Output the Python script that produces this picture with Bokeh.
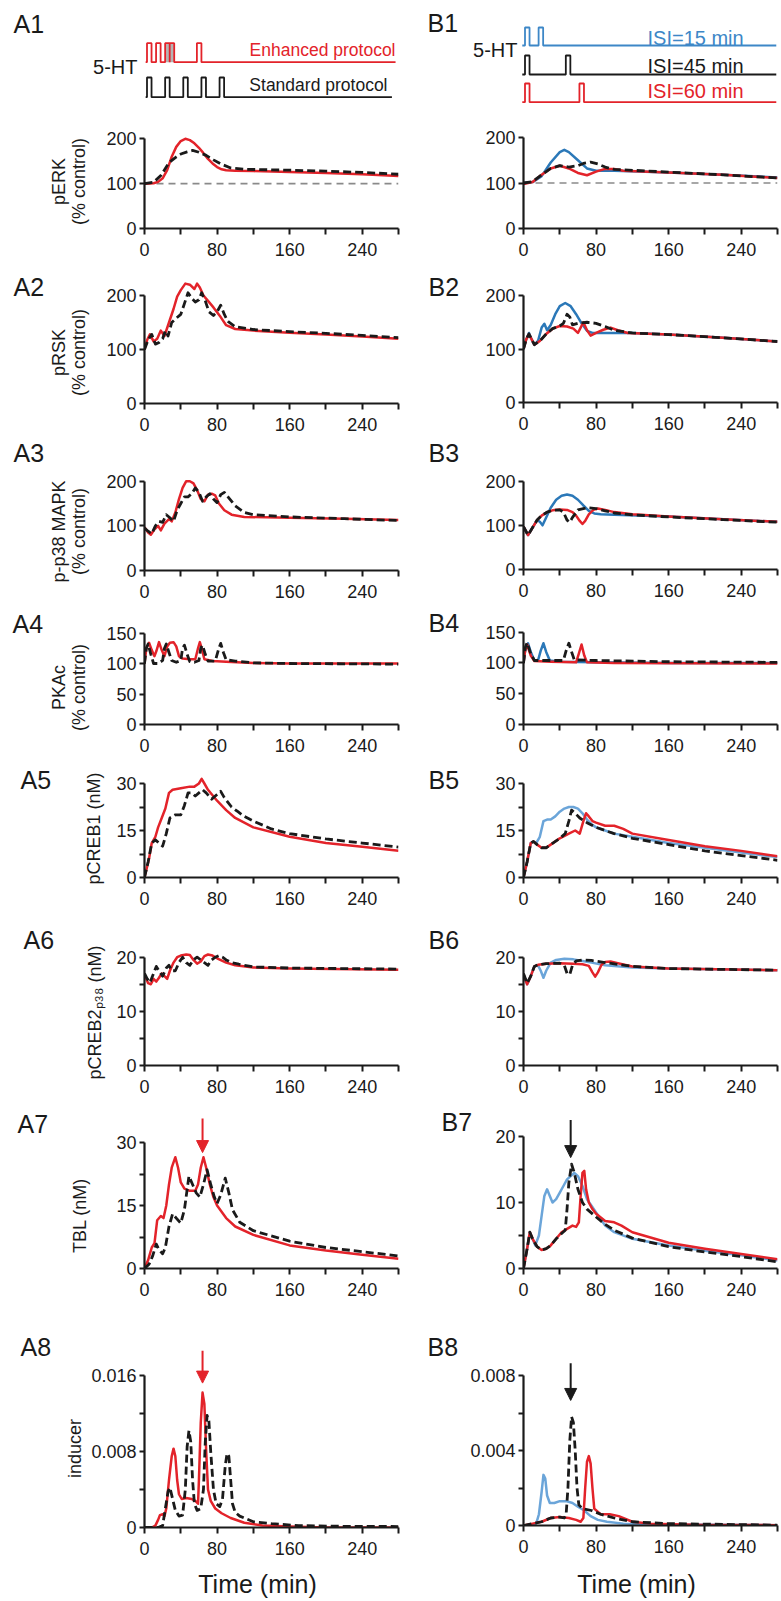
import math
from bokeh.plotting import figure
from bokeh.layouts import column, row
from bokeh.models import Range1d, FixedTicker, NumeralTickFormatter, Label, Arrow, NormalHead
from bokeh.embed import file_html
from bokeh.resources import INLINE

FONT = "Liberation Sans"
INK = "#1a1a1a"
RED = "#e3232a"
BLUE = "#2b78b8"
LBLUE = "#6ba5d9"
PBLUE = "#3d87c7"
GREY = "#8a8a8a"

# ---------------- data ----------------
X_TICKS = [0, 80, 160, 240]
X_MINOR = [40, 120, 200, 280]

ENHANCED = [0, 10, 20, 25, 55]
STANDARD = [0, 20, 40, 60, 80]
ISI15 = [0, 15]
ISI45 = [0, 45]
ISI60 = [0, 60]
PULSE_MIN = 5
CONTROL_LEVEL = 100

# A1 / B1 pERK
a1_red_t = [0, 10, 15, 20, 25, 30, 35, 40, 45, 50, 55, 60, 65, 70, 75, 80, 85, 90, 100, 120, 160, 200, 240, 280]
a1_red = [100, 101, 104, 112, 130, 160, 182, 195, 200, 197, 190, 180, 168, 155, 145, 137, 132, 130, 129, 128, 126, 124, 121, 117]
a1_std_t = [0, 10, 18, 27, 34, 40, 47, 53, 60, 68, 76, 84, 95, 110, 160, 200, 240, 280]
a1_std = [100, 103, 118, 147, 158, 166, 171, 174, 170, 163, 153, 144, 135, 132, 130, 128, 125, 121]
b1_i15_t = [0, 10, 20, 30, 40, 45, 50, 60, 70, 80, 100, 160, 220, 280]
b1_i15 = [100, 102, 115, 145, 168, 173, 168, 150, 132, 127, 127, 123, 118, 112]
b1_i60_t = [0, 10, 20, 30, 40, 50, 60, 70, 80, 90, 100, 110, 160, 220, 280]
b1_i60 = [98, 102, 118, 132, 138, 132, 122, 117, 125, 131, 131, 127, 123, 118, 111]
b1_i45_t = [0, 10, 20, 30, 40, 50, 60, 66, 74, 82, 90, 100, 160, 220, 280]
b1_i45 = [100, 103, 118, 132, 138, 135, 138, 143, 146, 142, 135, 130, 124, 118, 111]

# A2 / B2 pRSK
a2_red_t = [0, 3, 6, 10, 14, 18, 22, 27, 32, 36, 40, 45, 50, 55, 58, 61, 65, 70, 76, 84, 90, 100, 120, 160, 200, 240, 280]
a2_red = [100, 118, 128, 115, 120, 135, 125, 150, 175, 198, 210, 222, 220, 212, 222, 215, 200, 190, 178, 160, 145, 138, 135, 131, 128, 124, 120]
a2_std_t = [0, 4, 8, 12, 16, 20, 23, 26, 30, 35, 40, 44, 48, 52, 56, 60, 63, 67, 71, 76, 80, 84, 88, 92, 100, 120, 160, 200, 240, 280]
a2_std = [100, 118, 128, 110, 113, 120, 135, 125, 150, 158, 165, 185, 205, 195, 188, 192, 205, 190, 170, 163, 170, 182, 165, 152, 142, 137, 133, 130, 126, 122]
b2_i15_t = [0, 3, 6, 9, 12, 16, 20, 23, 26, 30, 35, 40, 46, 52, 58, 64, 70, 76, 90, 120, 160, 220, 280]
b2_i15 = [100, 118, 130, 118, 108, 115, 140, 147, 135, 145, 165, 180, 186, 180, 165, 148, 134, 130, 130, 130, 127, 121, 114]
b2_i60_t = [0, 3, 6, 9, 12, 18, 25, 32, 40, 48, 55, 60, 63, 66, 70, 74, 80, 88, 96, 104, 115, 160, 220, 280]
b2_i60 = [100, 118, 128, 118, 108, 115, 128, 138, 143, 142, 138, 130, 140, 150, 135, 125, 130, 136, 140, 135, 130, 127, 121, 114]
b2_i45_t = [0, 3, 6, 9, 12, 18, 25, 32, 40, 44, 48, 51, 54, 60, 70, 80, 90, 100, 120, 160, 220, 280]
b2_i45 = [100, 118, 128, 118, 108, 115, 128, 138, 143, 148, 165, 160, 145, 148, 150, 148, 142, 135, 130, 127, 121, 114]

# A3 / B3 p-p38 MAPK
a3_red_t = [0, 4, 7, 11, 15, 18, 22, 27, 30, 34, 38, 42, 46, 50, 54, 58, 62, 66, 70, 74, 78, 82, 88, 96, 110, 160, 220, 280]
a3_red = [97, 85, 80, 92, 100, 90, 105, 115, 110, 130, 160, 185, 200, 200, 195, 180, 160, 155, 170, 172, 168, 150, 135, 125, 120, 118, 116, 113]
a3_std_t = [0, 4, 8, 12, 16, 20, 24, 28, 32, 36, 40, 44, 48, 52, 56, 60, 64, 68, 72, 76, 80, 84, 88, 92, 100, 110, 120, 160, 220, 280]
a3_std = [95, 88, 82, 100, 110, 108, 125, 118, 110, 135, 150, 165, 165, 172, 185, 175, 155, 165, 172, 160, 152, 170, 175, 165, 145, 130, 125, 120, 116, 112]
b3_i15_t = [0, 5, 10, 15, 18, 21, 25, 30, 36, 42, 48, 54, 60, 66, 72, 78, 85, 100, 160, 220, 280]
b3_i15 = [97, 78, 95, 112, 108, 100, 118, 140, 158, 167, 170, 167, 158, 145, 133, 127, 125, 124, 120, 114, 108]
b3_i60_t = [0, 5, 10, 15, 20, 26, 32, 40, 48, 54, 58, 62, 65, 68, 72, 77, 82, 90, 100, 120, 160, 220, 280]
b3_i60 = [97, 78, 95, 112, 122, 130, 134, 136, 135, 130, 122, 110, 103, 110, 125, 135, 138, 135, 130, 125, 120, 114, 108]
b3_i45_t = [0, 5, 10, 15, 20, 26, 32, 40, 44, 48, 51, 54, 60, 70, 80, 90, 100, 120, 160, 220, 280]
b3_i45 = [97, 78, 95, 112, 122, 130, 134, 135, 130, 112, 107, 118, 135, 140, 138, 133, 128, 124, 119, 113, 107]

# A4 / B4 PKAc
a4_red_t = [0, 2, 5, 8, 11, 13, 16, 19, 22, 25, 28, 32, 35, 38, 42, 50, 56, 59, 61, 63, 66, 75, 90, 120, 160, 280]
a4_red = [100, 125, 134, 122, 112, 120, 135, 122, 112, 128, 134, 135, 128, 112, 108, 107, 107, 125, 135, 125, 107, 104, 103, 101, 100, 100]
a4_std_t = [0, 2, 4, 7, 10, 15, 20, 22, 24, 27, 30, 35, 40, 42, 44, 47, 50, 55, 60, 62, 64, 67, 70, 78, 82, 84, 87, 90, 100, 120, 160, 280]
a4_std = [100, 125, 132, 115, 100, 100, 105, 125, 132, 118, 105, 102, 105, 125, 130, 115, 103, 102, 105, 125, 130, 115, 104, 104, 125, 133, 118, 106, 104, 101, 100, 99]
b4_i15_t = [0, 2, 5, 8, 12, 16, 19, 22, 25, 29, 40, 80, 160, 280]
b4_i15 = [100, 122, 132, 118, 104, 104, 120, 132, 118, 104, 102, 101, 100, 100]
b4_i60_t = [0, 2, 4, 8, 12, 30, 58, 61, 64, 67, 70, 100, 280]
b4_i60 = [100, 122, 130, 112, 103, 102, 101, 115, 130, 112, 101, 100, 99]
b4_i45_t = [0, 2, 4, 8, 12, 30, 44, 47, 50, 53, 56, 80, 160, 280]
b4_i45 = [100, 125, 133, 115, 104, 104, 104, 120, 132, 118, 105, 104, 102, 101]

# A5 / B5 pCREB1
a5_red_t = [0, 5, 8, 12, 15, 19, 23, 27, 31, 40, 50, 55, 60, 63, 66, 70, 80, 90, 100, 120, 160, 200, 240, 280]
a5_red = [0, 6, 11, 13, 16, 19, 22, 27, 28, 28.5, 29, 29, 30, 31.5, 30, 28, 24.5, 21.5, 19, 16, 13, 11, 9.8, 8.5]
a5_std_t = [0, 4, 8, 12, 16, 20, 24, 28, 34, 40, 44, 48, 52, 56, 60, 64, 68, 74, 80, 84, 88, 92, 96, 103, 110, 120, 140, 160, 200, 240, 280]
a5_std = [0, 5, 11, 12, 11, 10, 14, 19, 20, 20, 23, 27, 27, 26, 27, 28, 27, 25, 26.5, 27.5, 25.5, 24, 22.5, 21, 19.5, 18, 15.5, 14, 12.3, 11, 9.7]
b5_i15_t = [0, 4, 8, 11, 14, 18, 22, 26, 30, 35, 40, 45, 50, 55, 60, 65, 70, 75, 80, 90, 100, 120, 160, 200, 240, 280]
b5_i15 = [0, 5, 11, 11.5, 11, 13, 18, 18.5, 18.5, 19.5, 21, 22, 22.5, 22.5, 22, 20.5, 18.5, 17, 16, 15, 14, 13, 11, 9.5, 8, 6.5]
b5_i60_t = [0, 4, 8, 11, 15, 20, 25, 30, 40, 50, 57, 62, 66, 69, 72, 76, 80, 90, 100, 110, 120, 160, 200, 240, 280]
b5_i60 = [0, 5, 11, 11.5, 10.5, 9.5, 9.5, 10.5, 12.5, 14, 15, 14, 18, 20.5, 19.5, 18, 17.5, 16.5, 16.5, 15.5, 14, 12, 10, 8.5, 6.8]
b5_i45_t = [0, 4, 8, 11, 15, 20, 25, 30, 40, 46, 50, 53, 57, 62, 70, 80, 100, 120, 160, 200, 240, 280]
b5_i45 = [0, 5, 11, 11.5, 10.5, 9.5, 9.5, 10.5, 12.5, 14, 18, 21.5, 20.5, 19, 17.5, 16, 14, 12.5, 10.5, 8.5, 7, 5.5]

# A6 / B6 pCREB2 p38
a6_red_t = [0, 4, 7, 10, 13, 16, 19, 22, 25, 28, 32, 36, 40, 46, 50, 54, 58, 62, 66, 70, 75, 80, 90, 100, 120, 160, 280]
a6_red = [16.8, 15.2, 15, 16, 15.5, 16.2, 17, 16.5, 16, 17.5, 19, 20, 20.3, 20.5, 20.4, 19.5, 18.8, 19.2, 20.2, 20.5, 20.3, 19.8, 19, 18.5, 18.1, 17.9, 17.7]
a6_std_t = [0, 3, 6, 10, 13, 16, 20, 24, 27, 30, 34, 38, 42, 46, 50, 54, 58, 62, 66, 70, 74, 78, 82, 86, 90, 96, 104, 120, 160, 280]
a6_std = [17, 16, 15.3, 17, 18.3, 17.5, 16.5, 18, 18.5, 17.5, 17.5, 19, 20, 19, 18.5, 19.5, 20, 19.5, 19, 18.5, 19.5, 20, 20.3, 20, 19.5, 19, 18.7, 18.2, 18, 17.8]
b6_i15_t = [0, 4, 8, 12, 16, 19, 22, 25, 30, 36, 45, 55, 65, 75, 90, 120, 160, 280]
b6_i15 = [16.8, 15, 16.5, 18.3, 18.5, 17.5, 16.2, 17.5, 19, 19.5, 19.7, 19.6, 19.3, 19, 18.5, 18.1, 17.9, 17.6]
b6_i60_t = [0, 4, 8, 12, 16, 25, 40, 55, 65, 72, 76, 79, 82, 86, 90, 96, 104, 120, 160, 280]
b6_i60 = [16.8, 15, 16.5, 18.3, 18.6, 18.8, 18.9, 18.8, 18.7, 18.4, 17.2, 16.4, 17.2, 18.6, 19.1, 19.2, 18.9, 18.3, 17.9, 17.6]
b6_i45_t = [0, 4, 8, 12, 16, 25, 40, 45, 48, 51, 54, 58, 65, 75, 90, 120, 160, 280]
b6_i45 = [17, 15.2, 16.5, 18.3, 18.6, 18.8, 18.9, 18.5, 17, 16.8, 18.5, 19.3, 19.5, 19.4, 19, 18.3, 17.9, 17.6]

# A7 / B7 TBL
a7_red_t = [0, 4, 8, 11, 14, 18, 21, 24, 27, 30, 34, 37, 40, 44, 50, 56, 59, 62, 65, 68, 72, 76, 80, 90, 100, 120, 160, 200, 240, 280]
a7_red = [0, 2, 5, 6, 11.5, 12.5, 12, 15, 20, 24, 26.5, 24, 20.5, 19, 18.5, 18.5, 20, 24, 26.5, 24, 20, 17, 15, 12, 10, 8, 5.5, 4.3, 3.3, 2.3]
a7_std_t = [0, 5, 9, 13, 16, 20, 23, 27, 31, 35, 40, 44, 49, 53, 57, 61, 65, 69, 73, 77, 80, 84, 89, 93, 97, 105, 120, 160, 200, 240, 280]
a7_std = [0, 1, 3, 5.8, 4.5, 3.5, 5, 10, 13, 12, 10.8, 14, 22, 20, 18, 17, 20, 23.5, 20, 17, 15.5, 17.5, 21.5, 18, 14, 11, 9, 6.5, 5, 4, 3]
b7_i15_t = [0, 4, 7, 10, 13, 17, 20, 23, 26, 29, 32, 36, 40, 44, 48, 52, 56, 60, 65, 70, 75, 80, 90, 100, 120, 160, 200, 240, 280]
b7_i15 = [0, 3, 5.5, 4.5, 3.5, 5, 8, 11, 12, 11, 10, 10.5, 11.5, 12.5, 13.5, 14, 14.5, 14, 12.5, 10.5, 9.5, 8.5, 6.5, 5.5, 4.5, 3.5, 2.7, 2, 1.2]
b7_i60_t = [0, 4, 7, 10, 15, 20, 25, 30, 36, 42, 48, 54, 58, 61, 63, 65, 67, 69, 72, 76, 80, 90, 100, 108, 120, 160, 200, 240, 280]
b7_i60 = [0, 3, 5.5, 4.5, 3.3, 2.8, 3, 3.5, 4.5, 5.5, 6, 6.5, 6.3, 7, 11, 14.5, 14.8, 12, 10, 9, 8.3, 7.2, 7, 6.5, 5.5, 3.9, 3, 2.2, 1.4]
b7_i45_t = [0, 4, 7, 10, 15, 20, 25, 30, 36, 42, 46, 48, 50, 53, 56, 60, 65, 70, 80, 90, 100, 120, 160, 200, 240, 280]
b7_i45 = [0, 3, 5.5, 4.5, 3.3, 2.8, 3, 3.5, 4.5, 5.3, 5.8, 9, 13, 15.8, 14.5, 12, 10, 9, 7.8, 6.7, 5.8, 4.6, 3.3, 2.5, 1.8, 1.0]

# A8 / B8 inducer
a8_red_t = [0, 8, 12, 15, 17, 20, 22, 24, 27, 30, 32, 34, 36, 38, 41, 46, 52, 56, 59, 60, 62, 64, 66, 68, 70, 73, 78, 85, 95, 110, 130, 160, 200, 280]
a8_red = [0, 0, 0.0002, 0.0008, 0.0013, 0.0014, 0.0012, 0.002, 0.005, 0.0075, 0.0083, 0.0075, 0.005, 0.0035, 0.003, 0.0031, 0.003, 0.0028, 0.0025, 0.005, 0.011, 0.0142, 0.013, 0.008, 0.004, 0.0028, 0.002, 0.0015, 0.001, 0.0005, 0.0002, 0.0001, 0, 0]
a8_std_t = [0, 15, 20, 23, 26, 28, 31, 34, 38, 42, 45, 47, 49, 51, 53, 55, 58, 62, 65, 67, 69, 71, 73, 76, 79, 83, 86, 89, 91, 93, 95, 97, 100, 105, 120, 140, 170, 220, 280]
a8_std = [0, 0, 0.0002, 0.002, 0.0038, 0.0042, 0.003, 0.0018, 0.0012, 0.0013, 0.004, 0.0085, 0.0102, 0.009, 0.005, 0.0025, 0.0018, 0.002, 0.004, 0.009, 0.0118, 0.0112, 0.008, 0.004, 0.0025, 0.0022, 0.003, 0.0065, 0.0078, 0.0075, 0.005, 0.0025, 0.0016, 0.0012, 0.0006, 0.0004, 0.0002, 0.00012, 0.0001]
b8_i15_t = [0, 10, 14, 17, 20, 22, 24, 26, 29, 34, 40, 47, 54, 60, 67, 74, 82, 92, 110, 160, 280]
b8_i15 = [0, 0.00005, 0.0001, 0.0006, 0.0018, 0.0027, 0.0025, 0.0016, 0.0012, 0.0012, 0.0013, 0.0013, 0.0012, 0.001, 0.0008, 0.0005, 0.0003, 0.0002, 0.0001, 0.00005, 0.00002]
b8_i60_t = [0, 10, 20, 30, 40, 50, 58, 63, 66, 68, 70, 72, 74, 76, 78, 85, 95, 105, 120, 140, 200, 280]
b8_i60 = [0, 0.0001, 0.0002, 0.0004, 0.00045, 0.0004, 0.0003, 0.0002, 0.0004, 0.002, 0.0034, 0.0037, 0.0033, 0.002, 0.0009, 0.0006, 0.0006, 0.0005, 0.0002, 0.0001, 0.00003, 0.00002]
b8_i45_t = [0, 10, 20, 30, 40, 45, 47, 49, 51, 53, 55, 57, 59, 61, 65, 75, 85, 100, 120, 160, 280]
b8_i45 = [0, 0.0001, 0.0002, 0.0004, 0.00045, 0.0004, 0.0006, 0.002, 0.0045, 0.0058, 0.0055, 0.004, 0.002, 0.0011, 0.0009, 0.0008, 0.0006, 0.0004, 0.0002, 0.0001, 0.00002]

# arrows marking the peak (time, from, to)
A7_ARROW = (64, 35.7, 27.6)
A8_ARROW = (64, 0.0186, 0.0152)
B7_ARROW = (52, 22.5, 16.8)
B8_ARROW = (52, 0.00866, 0.00667)

# ---------------- layout geometry (page pixels) ----------------
PX = 254 / 280.0
FRAME_W = 254
COLS = {"A": dict(left=0, right=420, f0=144), "B": dict(left=420, right=781, f0=523)}
TICK_FS = "18px"


def new_fig(**kw):
    p = figure(toolbar_location=None, output_backend="svg", title=None, **kw)
    try:
        p.frame_align = False
    except Exception:
        pass
    p.outline_line_color = None
    return p


def style_axes(p, ymax, yticks, yminor):
    xa = p.xaxis[0]
    xa.ticker = FixedTicker(ticks=X_TICKS, minor_ticks=X_MINOR)
    xa.bounds = (0, 280)
    ya = p.yaxis[0]
    ya.ticker = FixedTicker(ticks=yticks, minor_ticks=yminor)
    ya.bounds = (0, ymax)
    ya.formatter = NumeralTickFormatter(format="0.[000]")
    for ax in (xa, ya):
        ax.axis_line_width = 2.2
        ax.axis_line_color = INK
        ax.major_tick_line_width = 2
        ax.minor_tick_line_width = 2
        ax.major_tick_line_color = INK
        ax.minor_tick_line_color = INK
        ax.major_tick_in = 0
        ax.minor_tick_in = 0
        ax.major_label_text_font = FONT
        ax.major_label_text_font_size = TICK_FS
        ax.major_label_text_color = INK
    xa.major_tick_out = 6
    xa.minor_tick_out = 6
    xa.major_label_standoff = 8
    ya.major_tick_out = 5
    ya.minor_tick_out = 5
    ya.major_label_standoff = 3


def text_fig(x0, x1, rows):
    rtop, rbot = rows
    p = new_fig(width=x1 - x0, height=rbot - rtop, x_range=Range1d(x0, x1),
                y_range=Range1d(rbot, rtop), x_axis_type=None, y_axis_type=None,
                min_border=0)
    p.grid.visible = False
    return p


def add_text(p, x, y, txt, size, color=INK, align="left", angle=0.0):
    p.add_layout(Label(x=x, y=y, text=txt, text_font=FONT, text_font_size=size,
                       text_color=color, text_align=align, text_baseline="middle",
                       angle=angle))


def panel(col, rows, gut, y0, ytl, ymax, yticks, yminor, lines, tag=None, tag_xy=None,
          titles=(), arrow=None, baseline=False):
    rtop, rbot = rows
    c = COLS[col]
    # gutter left of the plot: panel letter and rotated y-axis title
    g = text_fig(c["left"], gut, rows)
    if tag:
        add_text(g, tag_xy[0], tag_xy[1], tag, "25px")
    for (txt, xc, yc) in titles:
        add_text(g, xc, yc, txt, "18px", align="center", angle=math.pi / 2)

    W = c["right"] - gut
    H = rbot - rtop
    py = (y0 - ytl) / ymax
    bt = 2
    yend = (y0 - rtop - bt) / py
    p = new_fig(width=W, height=H, x_range=Range1d(0, 280), y_range=Range1d(0, yend),
                min_border_left=c["f0"] - gut,
                min_border_right=c["right"] - c["f0"] - FRAME_W,
                min_border_top=bt, min_border_bottom=rbot - y0)
    p.xgrid.visible = False
    p.ygrid.visible = False
    style_axes(p, ymax, yticks, yminor)

    if baseline:
        p.line([0, 280], [CONTROL_LEVEL, CONTROL_LEVEL], line_color=GREY, line_width=1.6, line_dash="7 5")
    for (t, v, color, dash) in lines:
        p.line(t, v, line_color=color, line_width=2.8 if dash else 2.5,
               line_dash=dash if dash else "solid", line_join="round")
    if arrow is not None:
        (t, ya, yb), color = arrow
        p.add_layout(Arrow(x_start=t, y_start=ya, x_end=t, y_end=yb,
                           line_color=color, line_width=2,
                           end=NormalHead(size=12, fill_color=color, line_color=color, line_width=1)))
    return [g, p]


def pulse_wave(times, t_start, t_end, base, top):
    xs = [t_start]
    ys = [base]
    for t0 in times:
        xs += [t0, t0, t0 + PULSE_MIN, t0 + PULSE_MIN]
        ys += [base, top, top, base]
    xs.append(t_end)
    ys.append(base)
    return xs, ys


def protocol(col, rows, t0_page, waves, texts, tag, tag_xy, fiveht_xy):
    rtop, rbot = rows
    c = COLS[col]
    W = c["right"] - c["left"]
    H = rbot - rtop
    xs = (c["left"] - t0_page) / PX
    xe = (c["right"] - t0_page) / PX
    p = new_fig(width=W, height=H, x_range=Range1d(xs, xe), y_range=Range1d(rbot, rtop),
                x_axis_type=None, y_axis_type=None, min_border=0)
    p.grid.visible = False

    def X(xp):
        return (xp - t0_page) / PX

    for (times, base, top, color, ts, te) in waves:
        for a, b in zip(times[:-1], times[1:]):
            if b - a == PULSE_MIN:
                p.quad(left=[a], right=[b + PULSE_MIN], top=[top], bottom=[base],
                       fill_color="#b5b5b5", line_color=None)
        wx, wy = pulse_wave(times, ts, te, base, top)
        p.line(wx, wy, line_color=color, line_width=1.8)
    for (txt, xp, yp, align, size, color) in texts:
        add_text(p, X(xp), yp, txt, size, color=color, align=align)
    add_text(p, X(fiveht_xy[0]), fiveht_xy[1], "5-HT", "20px", align="right")
    add_text(p, X(tag_xy[0]), tag_xy[1], tag, "25px")
    return p


R = [(0, 112), (112, 268), (268, 438), (438, 607), (607, 762), (762, 915),
     (915, 1104), (1104, 1320), (1320, 1564)]
FOOT = (1564, 1601)
DASH = "8 4"

pa0 = protocol("A", R[0], 146.5,
               [(ENHANCED, 61.7, 42.7, RED, -1.5, 274), (STANDARD, 96.7, 77, INK, -1.5, 270)],
               [("Enhanced protocol", 395, 49, "right", "17.5px", RED),
                ("Standard protocol", 387, 84.5, "right", "17.5px", INK)],
               "A1", (13, 23.7), (137, 66))
pb0 = protocol("B", R[0], 524.5,
               [(ISI15, 45, 27, PBLUE, -3, 277), (ISI45, 74, 55, INK, -3, 277),
                (ISI60, 101.7, 83, RED, -3, 277)],
               [("ISI=15 min", 647, 37.5, "left", "20px", PBLUE),
                ("ISI=45 min", 647, 65.3, "left", "20px", INK),
                ("ISI=60 min", 647, 90, "left", "20px", RED)],
               "B1", (427, 22.5), (517, 49))

T100 = [0, 100, 200]
pct = lambda name, yc: [(name, 58, yc), ("(% control)", 78.5, yc)]

ra1 = panel("A", R[1], 98, 228, 138.3, 200, T100, [],
            [(a1_red_t, a1_red, RED, None), (a1_std_t, a1_std, INK, DASH)],
            titles=pct("pERK", 181), baseline=True)
rb1 = panel("B", R[1], 475, 228, 137, 200, T100, [],
            [(b1_i15_t, b1_i15, BLUE, None), (b1_i60_t, b1_i60, RED, None), (b1_i45_t, b1_i45, INK, DASH)],
            baseline=True)
ra2 = panel("A", R[2], 98, 403, 295, 200, T100, [],
            [(a2_red_t, a2_red, RED, None), (a2_std_t, a2_std, INK, DASH)],
            "A2", (13, 286), titles=pct("pRSK", 352))
rb2 = panel("B", R[2], 475, 402, 295, 200, T100, [],
            [(b2_i15_t, b2_i15, BLUE, None), (b2_i60_t, b2_i60, RED, None), (b2_i45_t, b2_i45, INK, DASH)],
            "B2", (428, 286))
ra3 = panel("A", R[3], 98, 570, 480.7, 200, T100, [],
            [(a3_red_t, a3_red, RED, None), (a3_std_t, a3_std, INK, DASH)],
            "A3", (13, 452), titles=pct("p-p38 MAPK", 531))
rb3 = panel("B", R[3], 475, 569, 480.7, 200, T100, [],
            [(b3_i15_t, b3_i15, BLUE, None), (b3_i60_t, b3_i60, RED, None), (b3_i45_t, b3_i45, INK, DASH)],
            "B3", (428, 452))
ra4 = panel("A", R[4], 98, 724, 632.5, 150, [0, 50, 100, 150], [],
            [(a4_red_t, a4_red, RED, None), (a4_std_t, a4_std, INK, DASH)],
            "A4", (12, 623.5), titles=pct("PKAc", 687))
rb4 = panel("B", R[4], 475, 724, 631.7, 150, [0, 50, 100, 150], [],
            [(b4_i15_t, b4_i15, BLUE, None), (b4_i60_t, b4_i60, RED, None), (b4_i45_t, b4_i45, INK, DASH)],
            "B4", (428, 622.5))
ra5 = panel("A", R[5], 108, 877, 783, 30, [0, 15, 30], [7.5, 22.5],
            [(a5_red_t, a5_red, RED, None), (a5_std_t, a5_std, INK, DASH)],
            "A5", (20, 779), titles=[("pCREB1 (nM)", 93, 828)])
rb5 = panel("B", R[5], 478, 877, 783, 30, [0, 15, 30], [7.5, 22.5],
            [(b5_i15_t, b5_i15, LBLUE, None), (b5_i60_t, b5_i60, RED, None), (b5_i45_t, b5_i45, INK, DASH)],
            "B5", (428, 779))
ra6 = panel("A", R[6], 108, 1065, 956.7, 20, [0, 10, 20], [5, 15],
            [(a6_red_t, a6_red, RED, None), (a6_std_t, a6_std, INK, DASH)],
            "A6", (23, 939), titles=[("pCREB2\u209a\u2083\u2088 (nM)", 94, 1012)])
rb6 = panel("B", R[6], 478, 1065, 956.7, 20, [0, 10, 20], [5, 15],
            [(b6_i15_t, b6_i15, LBLUE, None), (b6_i60_t, b6_i60, RED, None), (b6_i45_t, b6_i45, INK, DASH)],
            "B6", (428, 939))
ra7 = panel("A", R[7], 100, 1268, 1142, 30, [0, 15, 30], [7.5, 22.5],
            [(a7_red_t, a7_red, RED, None), (a7_std_t, a7_std, INK, DASH)],
            "A7", (17, 1123.5), titles=[("TBL (nM)", 79, 1215)], arrow=(A7_ARROW, RED))
rb7 = panel("B", R[7], 482, 1268, 1136, 20, [0, 10, 20], [5, 15],
            [(b7_i15_t, b7_i15, LBLUE, None), (b7_i60_t, b7_i60, RED, None), (b7_i45_t, b7_i45, INK, DASH)],
            "B7", (441, 1121), arrow=(B7_ARROW, INK))
ra8 = panel("A", R[8], 88, 1527, 1375, 0.016, [0, 0.008, 0.016], [0.004, 0.012],
            [(a8_red_t, a8_red, RED, None), (a8_std_t, a8_std, INK, DASH)],
            "A8", (20, 1346.7), titles=[("inducer", 74.5, 1448)], arrow=(A8_ARROW, RED))
rb8 = panel("B", R[8], 466, 1525, 1375, 0.008, [0, 0.004, 0.008], [0.002, 0.006],
            [(b8_i15_t, b8_i15, LBLUE, None), (b8_i60_t, b8_i60, RED, None), (b8_i45_t, b8_i45, INK, DASH)],
            "B8", (427, 1346.7), arrow=(B8_ARROW, INK))

fa = text_fig(0, 420, FOOT)
add_text(fa, 257, 1583, "Time (min)", "25px", align="center")
fb = text_fig(420, 781, FOOT)
add_text(fb, 636, 1583, "Time (min)", "25px", align="center")

layout = column(
    row(pa0, pb0),
    row(*ra1, *rb1), row(*ra2, *rb2), row(*ra3, *rb3), row(*ra4, *rb4),
    row(*ra5, *rb5), row(*ra6, *rb6), row(*ra7, *rb7), row(*ra8, *rb8),
    row(fa, fb),
)

open("out.html", "w").write(file_html(layout, INLINE))
